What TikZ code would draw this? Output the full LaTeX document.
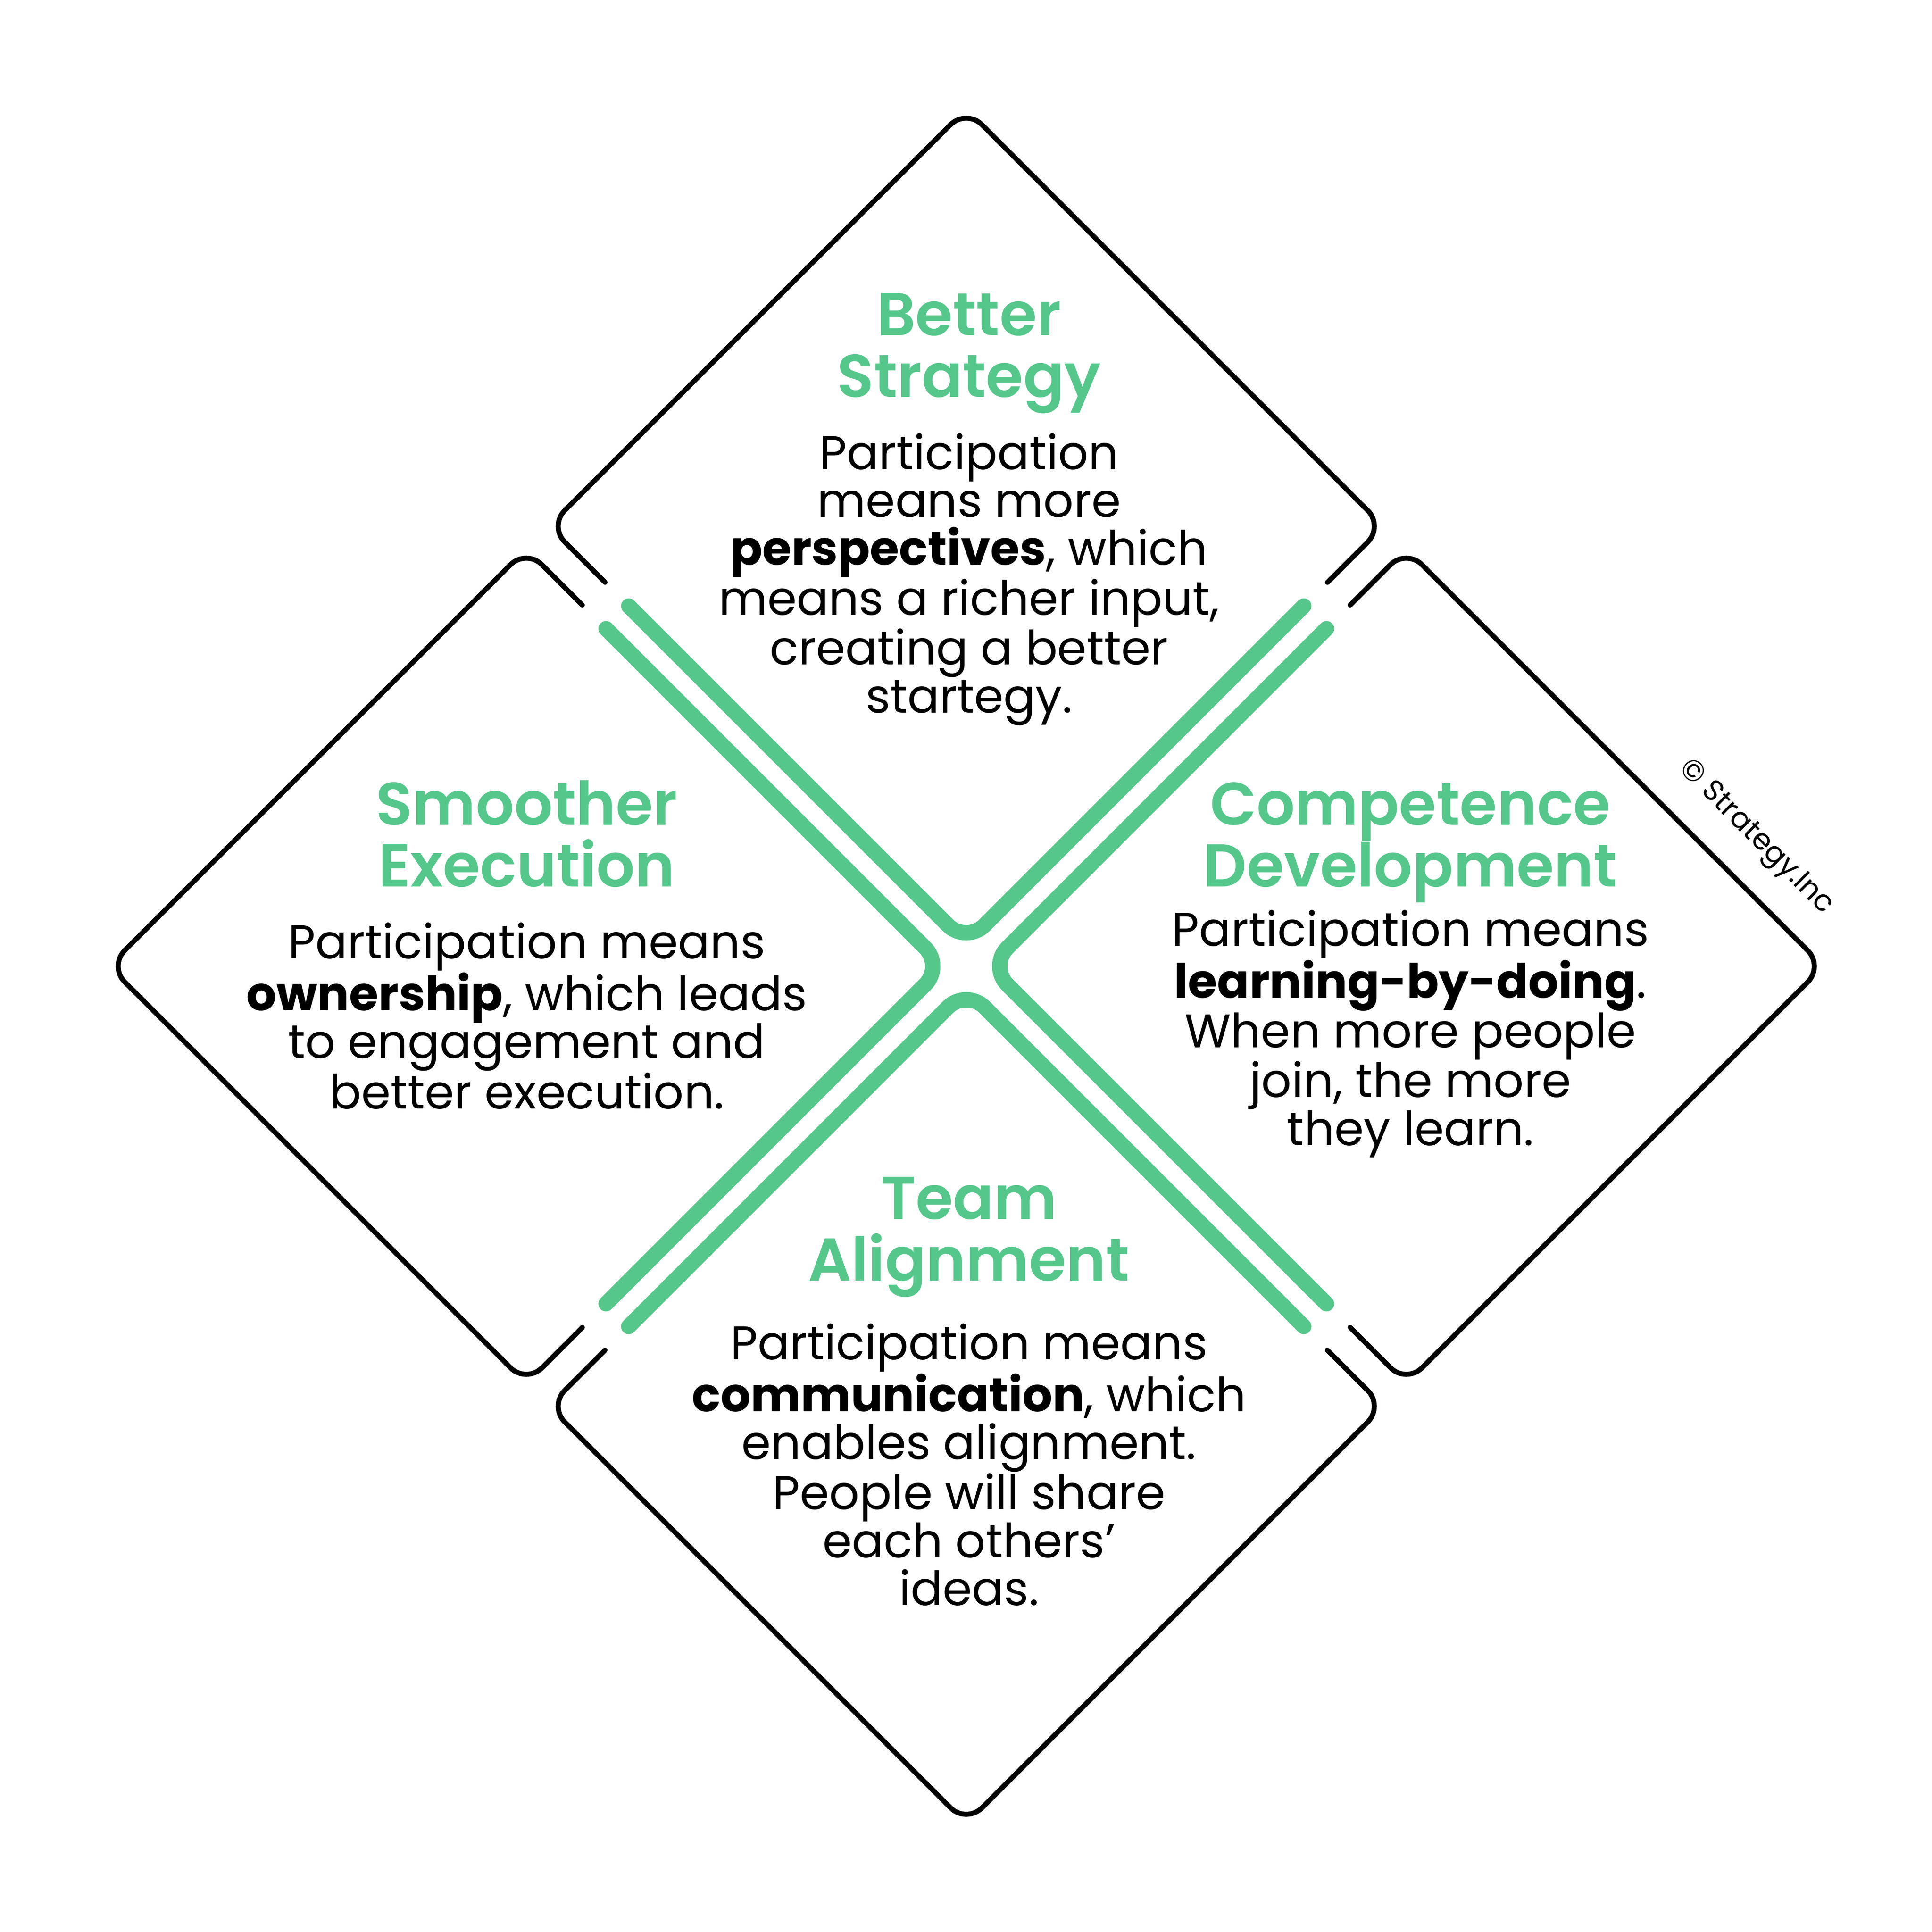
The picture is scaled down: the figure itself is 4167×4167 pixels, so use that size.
\documentclass[tikz,border=0pt]{standalone}
\usepackage{fontspec}
\setmainfont{Poppins}
\newfontfamily\headfont{Poppins SemiBold}
\definecolor{leafgreen}{RGB}{85,199,139}
\tikzset{
  blackedge/.style={draw=black, line width=3.1pt, line cap=round,
    line join=round, rounded corners=0.48cm},
  greenedge/.style={draw=leafgreen, line width=9.4pt, line cap=round,
    rounded corners=0.56cm},
  headtext/.style={text=leafgreen, align=center, inner sep=0pt, anchor=base,
    font=\headfont\fontsize{37pt}{37.8pt}\selectfont},
  bodytext/.style={align=center, inner sep=0pt, anchor=base,
    font=\fontsize{29pt}{29.3pt}\selectfont},
}

\begin{document}
\begin{tikzpicture}[x=0.01cm, y=-0.01cm]
    \fill[white] (0,0) rectangle (4167,4167);
    \useasboundingbox (0,0) rectangle (4167,4167);

    % the four diamonds, one shape turned round the middle
    \begin{scope}[shift={(2084,2084)}]
      \foreach \ang in {0,90,180,270}{
        \begin{scope}[rotate=\ang]
          \draw[blackedge] (-779,-828) -- (-900,-949) -- (0,-1849)
                           -- (900,-949) -- (779,-828);
          \draw[greenedge] (-728,-777) -- (0,-49) -- (728,-777);
        \end{scope}
      }
    \end{scope}

    % top (nodes sit on the base of their last line)
    \node[headtext] (strategy) at (2090,856) {Better\\Strategy};
    \node[bodytext] (strategytext) at (2090,1537)
        {Participation\\means more\\\textbf{perspectives}, which\\means a richer input,\\creating a better\\startegy.};

    % left
    \node[headtext] (execution) at (1136,1912) {Smoother\\Execution};
    \node[bodytext] (executiontext) at (1136,2391)
        {Participation means\\\textbf{ownership}, which leads\\to engagement and\\better execution.};

    % right
    \node[headtext] (competence) at (3042,1912) {Competence\\Development};
    \node[bodytext] (competencetext) at (3042,2470)
        {Participation means\\\textbf{learning-by-doing}.\\When more people\\join, the more\\they learn.};

    % bottom
    \node[headtext] (alignment) at (2090,2762) {Team\\Alignment};
    \node[bodytext] (alignmenttext) at (2090,3462)
        {Participation means\\\textbf{communication}, which\\enables alignment.\\People will share\\each others’\\ideas.};

    % copyright along the right diamond
    \node[rotate=-45, font=\fontsize{18pt}{18pt}\selectfont] (copyright)
        at (3786,1807) {© Strategy.Inc};
\end{tikzpicture}
\end{document}
